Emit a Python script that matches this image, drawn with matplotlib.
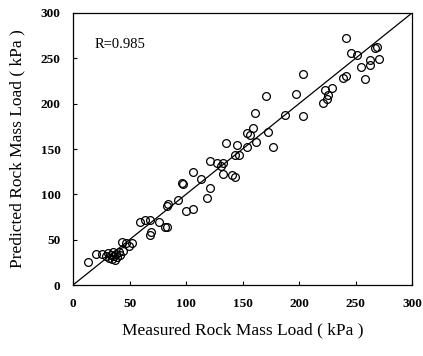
import matplotlib
matplotlib.use('Agg')
import matplotlib.pyplot as plt

# measured vs predicted rock mass load (kPa)
measured = [13.3, 20.6, 25.7, 29.2, 31.0, 31.9, 33.6, 34.5, 35.4, 36.3,
            37.2, 38.1, 38.9, 40.7, 41.6, 44.2, 43.6, 47.2, 52.5, 49.6,
            59.0, 63.7, 68.1, 69.3, 68.4, 76.4, 81.4, 83.2, 83.5, 84.3,
            93.2, 100.0, 106.5, 96.7, 97.2, 106.5, 113.0, 118.3, 121.2, 121.2,
            127.2, 131.0, 132.5, 132.5, 140.4, 143.4, 135.4, 145.4, 147.2, 143.4,
            154.2, 153.7, 156.6, 161.9, 159.0, 161.1, 170.8, 172.6, 176.7, 187.6,
            197.3, 203.5, 203.5, 223.0, 228.9, 225.7, 224.5, 221.0, 238.7, 241.6,
            245.8, 251.6, 254.6, 258.4, 262.8, 262.8, 270.8, 267.3, 269.0, 241.6]
predicted = [25.7, 33.8, 34.2, 32.0, 35.3, 29.8, 33.1, 28.7, 36.4, 32.0,
             27.6, 34.2, 30.9, 36.4, 33.1, 37.8, 47.7, 46.0, 46.6, 43.0,
             69.8, 71.7, 71.7, 58.8, 55.1, 69.8, 64.3, 63.9, 87.1, 89.3,
             93.7, 81.6, 83.8, 112.8, 111.4, 124.3, 116.5, 95.6, 106.6, 137.0,
             134.2, 131.2, 134.2, 122.4, 121.3, 119.4, 156.2, 154.4, 143.3, 143.3,
             151.8, 167.3, 165.4, 158.0, 173.1, 190.0, 208.7, 169.0, 152.5, 187.4,
             210.6, 232.3, 186.3, 215.0, 216.9, 209.5, 205.1, 201.0, 228.6, 230.8,
             255.5, 253.6, 240.7, 227.1, 248.1, 242.6, 248.8, 261.3, 262.7, 272.3]
ticks = [0, 50, 100, 150, 200, 250, 300]
r_text = 'R=0.985'

plt.rcParams['font.family'] = ['Liberation Serif', 'DejaVu Serif']

fig = plt.figure(figsize=(4.23, 3.56), dpi=100)
ax = fig.add_axes([0.1726, 0.1994, 0.8014, 0.7641])

ax.plot([0, 300], [0, 300], color='black', lw=0.9)
ax.plot(measured, predicted, linestyle='none', marker='o', ms=5.6,
        mfc='none', mec='black', mew=0.9)

ax.set_xlim(0, 300)
ax.set_ylim(0, 300)
ax.set_xticks(ticks)
ax.set_yticks(ticks)
ax.tick_params(direction='in', length=3, width=0.8, pad=9, labelsize=9.5)
for lab in ax.get_xticklabels() + ax.get_yticklabels():
    lab.set_fontweight('bold')
for sp in ax.spines.values():
    sp.set_linewidth(0.9)

ax.text(0.065, 0.885, r_text, transform=ax.transAxes, fontsize=10.5,
        va='center', ha='left')
ax.set_xlabel('Measured Rock Mass Load ( kPa )', fontsize=12.5, labelpad=9)
ax.set_ylabel('Predicted Rock Mass Load ( kPa )', fontsize=12.5, labelpad=11)

fig.savefig('out.png', dpi=100)
